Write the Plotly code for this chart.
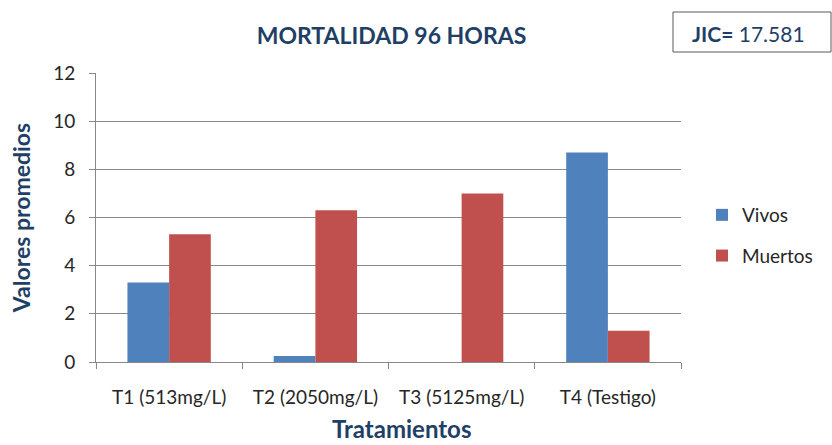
import plotly.graph_objects as go

# Treatments and mean counts at 96 hours
tratamientos = ["T1 (513mg/L)", "T2 (2050mg/L)", "T3 (5125mg/L)", "T4 (Testigo)"]
vivos = [3.3, 0.25, 0.0, 8.7]
muertos = [5.3, 6.3, 7.0, 1.3]
y_ticks = [0, 2, 4, 6, 8, 10, 12]

W, H = 832, 445
M_L, M_R, M_T, M_B = 96, 151, 73, 83
plot_w = W - M_L - M_R
plot_h = H - M_T - M_B


def px_x(px):
    return (px - M_L) / plot_w


def px_y(py):
    return (H - M_B - py) / plot_h


FONT = "Lato, Carlito, Calibri, sans-serif"
NAVY = "#1F3F66"
TEXT = "#262626"
GRID = "#888888"

fig = go.Figure()
fig.add_trace(go.Bar(
    name="Vivos", x=tratamientos, y=vivos, legendgroup="vivos",
    marker=dict(color="#4F81BD", line=dict(width=0)),
))
fig.add_trace(go.Bar(
    name="Muertos", x=tratamientos, y=muertos, legendgroup="muertos",
    marker=dict(color="#C0504D", line=dict(width=0)),
))

fig.update_layout(
    width=W, height=H,
    margin=dict(l=M_L, r=M_R, t=M_T, b=M_B, autoexpand=False),
    paper_bgcolor="white", plot_bgcolor="white",
    barmode="group", bargap=0.43, bargroupgap=0,
    font=dict(family=FONT, color=TEXT, size=19),
    title=dict(
        text="<b>MORTALIDAD 96 HORAS</b>",
        x=391.5 / W, xanchor="center",
        y=1 - 36 / H, yanchor="middle",
        font=dict(family=FONT, size=23, color=NAVY),
    ),
    legend=dict(
        x=px_x(702), xanchor="left", y=px_y(196), yanchor="top",
        font=dict(family=FONT, size=19, color=TEXT),
        traceorder="grouped", tracegroupgap=13,
        itemsizing="constant", itemwidth=30,
        bgcolor="rgba(0,0,0,0)",
    ),
    showlegend=True,
)

fig.update_yaxes(
    range=[0, 12], tickvals=y_ticks, ticktext=[str(v) for v in y_ticks],
    showgrid=True, gridcolor=GRID, gridwidth=1,
    showline=True, linecolor=GRID, linewidth=1,
    ticks="outside", ticklen=6, tickcolor=GRID,
    ticklabelstandoff=10,
    tickfont=dict(family=FONT, size=19, color=TEXT),
    zeroline=False,
    title=dict(text="<b>Valores promedios</b>", standoff=16,
               font=dict(family=FONT, size=23, color=NAVY)),
)
fig.update_xaxes(
    type="category", tickson="boundaries",
    showline=True, linecolor=GRID, linewidth=1, mirror=False,
    ticks="outside", ticklen=6, tickcolor=GRID,
    ticklabelstandoff=18,
    tickfont=dict(family=FONT, size=19, color=TEXT),
)

# X-axis title, placed under the tick labels and kept inside the page
fig.add_annotation(
    xref="paper", yref="paper", x=px_x(401), y=px_y(444),
    xanchor="center", yanchor="bottom", showarrow=False,
    text="<b>Tratamientos</b>", borderpad=0,
    font=dict(family=FONT, size=24, color=NAVY),
)

# JIC box in the top-right corner
fig.add_shape(
    type="rect", xref="paper", yref="paper",
    x0=px_x(673), x1=px_x(831), y0=px_y(52), y1=px_y(12),
    line=dict(color="#595959", width=1), fillcolor="white",
)
fig.add_annotation(
    xref="paper", yref="paper", x=px_x(690), y=px_y(33),
    xanchor="left", yanchor="middle", showarrow=False,
    text="<b>JIC=</b> 17.581",
    font=dict(family=FONT, size=21, color=NAVY),
)

fig.write_html("out.html")
